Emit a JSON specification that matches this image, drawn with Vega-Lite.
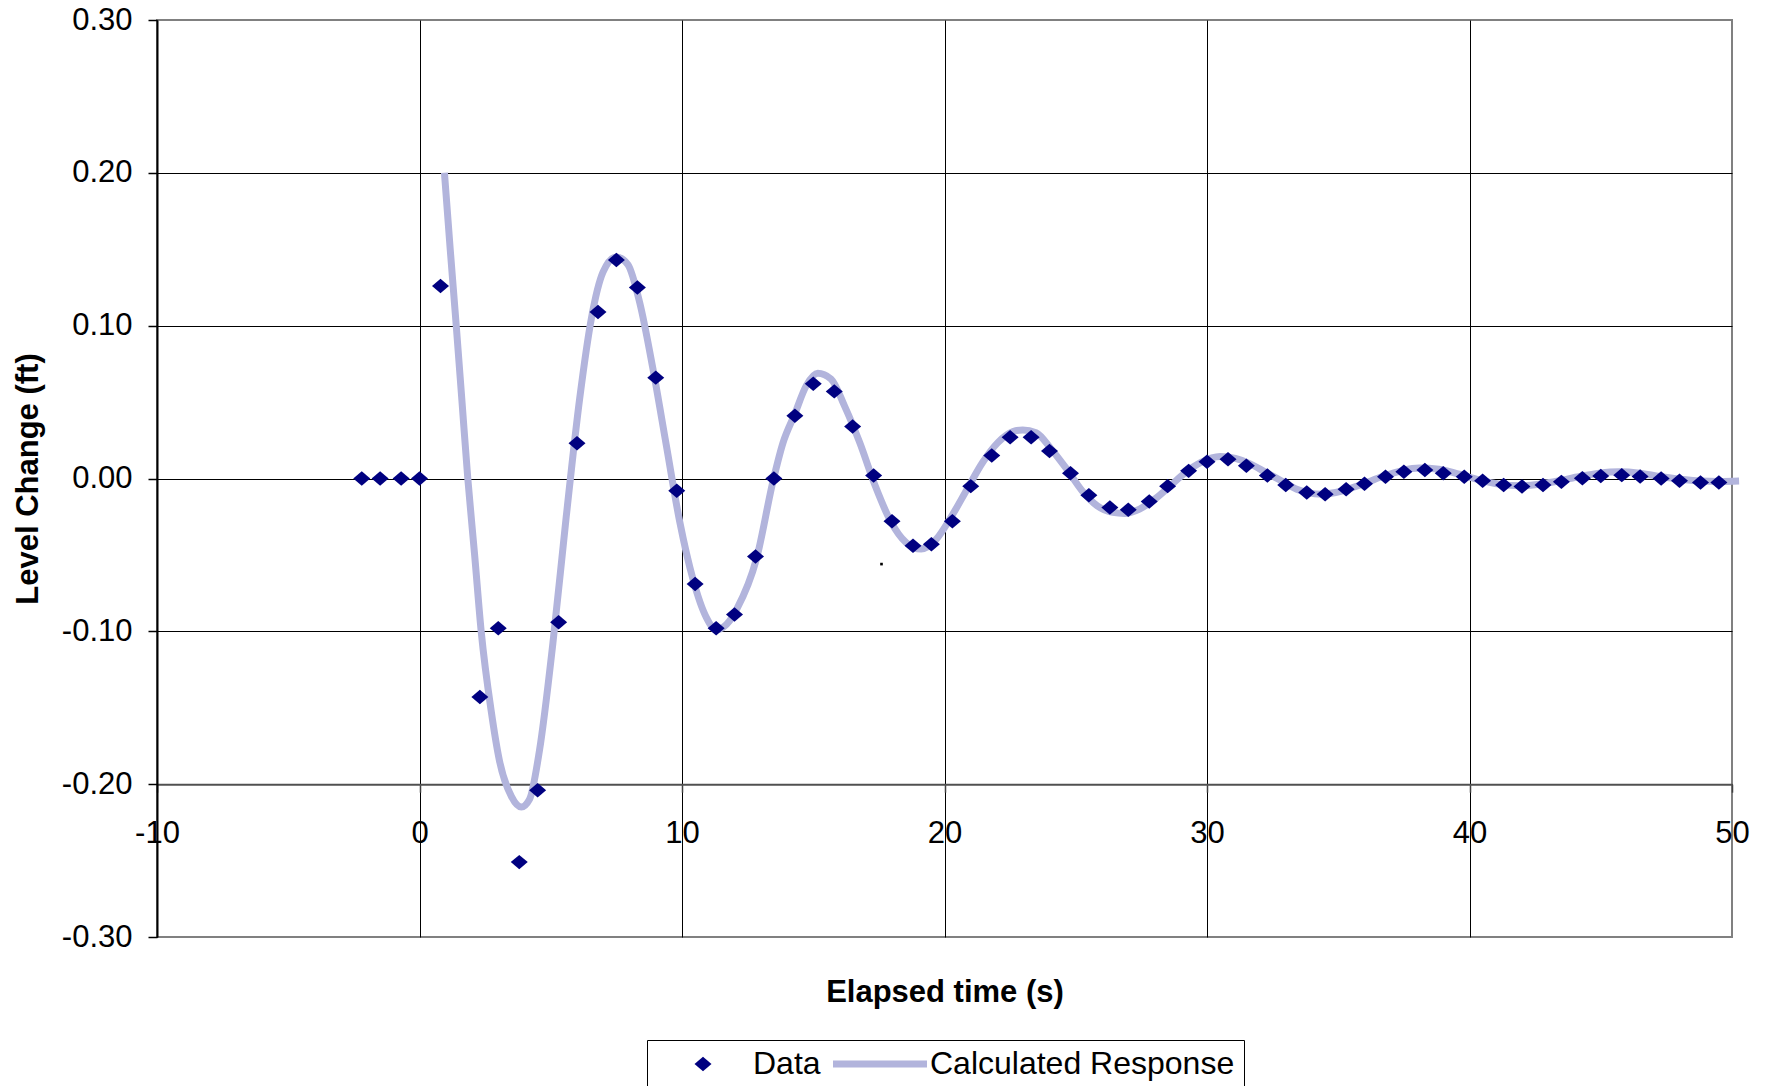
{
  "$schema": "https://vega.github.io/schema/vega-lite/v6.json",
  "width": 1575,
  "height": 917,
  "autosize": {"type": "none"},
  "padding": {"left": 157, "top": 20, "right": 40, "bottom": 149},
  "background": "white",
  "config": {
    "locale": {"number": {"decimal": ".", "thousands": ",", "grouping": [3], "currency": ["$", ""], "minus": "-"}},
    "font": "Liberation Sans",
    "view": {"stroke": "#808080", "strokeWidth": 2}
  },
  "datasets": {
    "measured": [
      {"t": -2.2, "level": 0, "series": "Data"},
      {"t": -1.5, "level": 0, "series": "Data"},
      {"t": -0.7, "level": 0, "series": "Data"},
      {"t": 0.0, "level": 0, "series": "Data"},
      {"t": 0.8, "level": 0.126, "series": "Data"},
      {"t": 2.3, "level": -0.143, "series": "Data"},
      {"t": 3.0, "level": -0.098, "series": "Data"},
      {"t": 3.8, "level": -0.251, "series": "Data"},
      {"t": 4.5, "level": -0.204, "series": "Data"},
      {"t": 5.3, "level": -0.094, "series": "Data"},
      {"t": 6.0, "level": 0.023, "series": "Data"},
      {"t": 6.8, "level": 0.109, "series": "Data"},
      {"t": 7.5, "level": 0.143, "series": "Data"},
      {"t": 8.3, "level": 0.125, "series": "Data"},
      {"t": 9.0, "level": 0.066, "series": "Data"},
      {"t": 9.8, "level": -0.008, "series": "Data"},
      {"t": 10.5, "level": -0.069, "series": "Data"},
      {"t": 11.3, "level": -0.098, "series": "Data"},
      {"t": 12.0, "level": -0.089, "series": "Data"},
      {"t": 12.8, "level": -0.051, "series": "Data"},
      {"t": 13.5, "level": 0.0, "series": "Data"},
      {"t": 14.3, "level": 0.041, "series": "Data"},
      {"t": 15.0, "level": 0.062, "series": "Data"},
      {"t": 15.8, "level": 0.057, "series": "Data"},
      {"t": 16.5, "level": 0.034, "series": "Data"},
      {"t": 17.3, "level": 0.002, "series": "Data"},
      {"t": 18.0, "level": -0.028, "series": "Data"},
      {"t": 18.8, "level": -0.044, "series": "Data"},
      {"t": 19.5, "level": -0.043, "series": "Data"},
      {"t": 20.3, "level": -0.028, "series": "Data"},
      {"t": 21.0, "level": -0.005, "series": "Data"},
      {"t": 21.8, "level": 0.015, "series": "Data"},
      {"t": 22.5, "level": 0.027, "series": "Data"},
      {"t": 23.3, "level": 0.027, "series": "Data"},
      {"t": 24.0, "level": 0.018, "series": "Data"},
      {"t": 24.8, "level": 0.0035, "series": "Data"},
      {"t": 25.5, "level": -0.011, "series": "Data"},
      {"t": 26.3, "level": -0.019, "series": "Data"},
      {"t": 27.0, "level": -0.0205, "series": "Data"},
      {"t": 27.8, "level": -0.015, "series": "Data"},
      {"t": 28.5, "level": -0.005, "series": "Data"},
      {"t": 29.3, "level": 0.005, "series": "Data"},
      {"t": 30.0, "level": 0.011, "series": "Data"},
      {"t": 30.8, "level": 0.0126, "series": "Data"},
      {"t": 31.5, "level": 0.0083, "series": "Data"},
      {"t": 32.3, "level": 0.002, "series": "Data"},
      {"t": 33.0, "level": -0.0043, "series": "Data"},
      {"t": 33.8, "level": -0.0092, "series": "Data"},
      {"t": 34.5, "level": -0.0103, "series": "Data"},
      {"t": 35.3, "level": -0.007, "series": "Data"},
      {"t": 36.0, "level": -0.0035, "series": "Data"},
      {"t": 36.8, "level": 0.0011, "series": "Data"},
      {"t": 37.5, "level": 0.0044, "series": "Data"},
      {"t": 38.3, "level": 0.0055, "series": "Data"},
      {"t": 39.0, "level": 0.0035, "series": "Data"},
      {"t": 39.8, "level": 0.0011, "series": "Data"},
      {"t": 40.5, "level": -0.0015, "series": "Data"},
      {"t": 41.3, "level": -0.0042, "series": "Data"},
      {"t": 42.0, "level": -0.0052, "series": "Data"},
      {"t": 42.8, "level": -0.0042, "series": "Data"},
      {"t": 43.5, "level": -0.0022, "series": "Data"},
      {"t": 44.3, "level": 0.0002, "series": "Data"},
      {"t": 45.0, "level": 0.0017, "series": "Data"},
      {"t": 45.8, "level": 0.0022, "series": "Data"},
      {"t": 46.5, "level": 0.0013, "series": "Data"},
      {"t": 47.3, "level": 0.0, "series": "Data"},
      {"t": 48.0, "level": -0.0015, "series": "Data"},
      {"t": 48.8, "level": -0.0026, "series": "Data"},
      {"t": 49.5, "level": -0.0026, "series": "Data"}
    ],
    "calculated": [
      {"t": 0.95, "level": 0.2},
      {"t": 1.17, "level": 0.15},
      {"t": 1.4, "level": 0.1},
      {"t": 1.62, "level": 0.05},
      {"t": 1.84, "level": 0.0},
      {"t": 2.1, "level": -0.05},
      {"t": 2.35, "level": -0.1},
      {"t": 2.73, "level": -0.152},
      {"t": 3.05, "level": -0.185},
      {"t": 3.5, "level": -0.208},
      {"t": 3.88, "level": -0.215},
      {"t": 4.19, "level": -0.21},
      {"t": 4.57, "level": -0.178},
      {"t": 5.08, "level": -0.108},
      {"t": 5.59, "level": -0.025},
      {"t": 6.1, "level": 0.052},
      {"t": 6.55, "level": 0.105},
      {"t": 6.99, "level": 0.135},
      {"t": 7.5, "level": 0.145},
      {"t": 7.94, "level": 0.14},
      {"t": 8.39, "level": 0.115},
      {"t": 8.89, "level": 0.072},
      {"t": 9.4, "level": 0.022},
      {"t": 9.91, "level": -0.028},
      {"t": 10.42, "level": -0.066},
      {"t": 10.93, "level": -0.091},
      {"t": 11.3, "level": -0.099},
      {"t": 11.82, "level": -0.093},
      {"t": 12.1, "level": -0.085},
      {"t": 12.83, "level": -0.053},
      {"t": 13.49, "level": 0.0},
      {"t": 13.85, "level": 0.0235},
      {"t": 14.29, "level": 0.042},
      {"t": 14.73, "level": 0.0606},
      {"t": 15.17, "level": 0.0688},
      {"t": 15.68, "level": 0.065},
      {"t": 16.19, "level": 0.0475},
      {"t": 16.77, "level": 0.0235},
      {"t": 17.36, "level": -0.0048},
      {"t": 17.94, "level": -0.0277},
      {"t": 18.53, "level": -0.0418},
      {"t": 19.11, "level": -0.0462},
      {"t": 19.69, "level": -0.0397},
      {"t": 20.28, "level": -0.0244},
      {"t": 20.86, "level": -0.007},
      {"t": 21.45, "level": 0.0105},
      {"t": 22.03, "level": 0.0235},
      {"t": 22.61, "level": 0.0307},
      {"t": 22.98, "level": 0.0318},
      {"t": 23.49, "level": 0.03},
      {"t": 24.07, "level": 0.0192},
      {"t": 24.66, "level": 0.0061},
      {"t": 25.24, "level": -0.008},
      {"t": 25.82, "level": -0.0179},
      {"t": 26.41, "level": -0.0222},
      {"t": 26.85, "level": -0.0229},
      {"t": 27.43, "level": -0.02},
      {"t": 28.01, "level": -0.0135},
      {"t": 28.6, "level": -0.0048},
      {"t": 29.18, "level": 0.0039},
      {"t": 29.77, "level": 0.0105},
      {"t": 30.5, "level": 0.0144},
      {"t": 31.08, "level": 0.0131},
      {"t": 31.66, "level": 0.0094},
      {"t": 32.25, "level": 0.0039},
      {"t": 32.83, "level": -0.0015},
      {"t": 33.42, "level": -0.007},
      {"t": 33.82, "level": -0.0092},
      {"t": 34.39, "level": -0.0103},
      {"t": 35.15, "level": -0.0081},
      {"t": 35.92, "level": -0.0037},
      {"t": 36.68, "level": 0.0013},
      {"t": 37.44, "level": 0.0052},
      {"t": 38.08, "level": 0.0068},
      {"t": 38.84, "level": 0.0061},
      {"t": 39.61, "level": 0.0028},
      {"t": 40.37, "level": -0.0009},
      {"t": 41.13, "level": -0.0037},
      {"t": 41.9, "level": -0.0048},
      {"t": 42.66, "level": -0.0037},
      {"t": 43.42, "level": -0.0015},
      {"t": 44.19, "level": 0.0013},
      {"t": 44.95, "level": 0.0035},
      {"t": 45.71, "level": 0.0044},
      {"t": 46.48, "level": 0.0035},
      {"t": 47.24, "level": 0.0013},
      {"t": 48.0, "level": -0.0004},
      {"t": 48.77, "level": -0.0017},
      {"t": 49.53, "level": -0.002},
      {"t": 50.27, "level": -0.0017}
    ],
    "stray": [
      {"t": 17.6, "level": -0.056}
    ]
  },
  "encoding": {
    "x": {
      "field": "t",
      "type": "quantitative",
      "scale": {"domain": [-10, 50], "nice": false, "zero": false},
      "axis": {
        "title": "Elapsed time (s)",
        "titleFontSize": 31,
        "titleFontWeight": "bold",
        "titleColor": "black",
        "titleBaseline": "top",
        "titleY": 193,
        "values": [-10, 0, 10, 20, 30, 40, 50],
        "format": "d",
        "offset": -152.83,
        "labelFontSize": 31,
        "labelColor": "black",
        "labelPadding": 26,
        "labelFlush": false,
        "labelOverlap": false,
        "labelBound": false,
        "tickSize": 8,
        "tickColor": "#404040",
        "tickWidth": 1.5,
        "domainColor": "#505050",
        "domainWidth": 2,
        "grid": true,
        "gridColor": {"condition": {"test": "datum.value >= 50", "value": "transparent"}, "value": "black"},
        "gridWidth": 1,
        "gridOpacity": 1
      }
    },
    "y": {
      "field": "level",
      "type": "quantitative",
      "scale": {"domain": [-0.3, 0.3], "nice": false, "zero": false},
      "axis": {
        "title": "Level Change (ft)",
        "titleFontSize": 31,
        "titleFontWeight": "bold",
        "titleColor": "black",
        "titleX": -129,
        "titleBaseline": "middle",
        "values": [-0.3, -0.2, -0.1, 0, 0.1, 0.2, 0.3],
        "format": ".2f",
        "labelFontSize": 31,
        "labelColor": "black",
        "labelPadding": 16,
        "labelFlush": false,
        "labelOverlap": false,
        "labelBound": false,
        "tickSize": 9,
        "tickColor": "black",
        "tickWidth": 1.5,
        "domainColor": "black",
        "domainWidth": 2,
        "grid": true,
        "gridColor": {"condition": {"test": "abs(datum.value) > 0.29", "value": "transparent"}, "value": "black"},
        "gridWidth": 1,
        "gridOpacity": 1
      }
    }
  },
  "layer": [
    {
      "data": {"name": "calculated"},
      "mark": {"type": "line", "color": "#b2b4dc", "strokeWidth": 7, "interpolate": "monotone", "clip": false},
      "encoding": {}
    },
    {
      "data": {"name": "measured"},
      "mark": {"type": "point", "filled": true, "size": 289, "opacity": 1, "strokeWidth": 0},
      "encoding": {
        "color": {
          "field": "series",
          "type": "nominal",
          "scale": {"domain": ["Data", "Calculated Response"], "range": ["#000080", "#b2b4dc"]},
          "legend": {
            "orient": "none",
            "legendX": 490,
            "legendY": 1020,
            "direction": "horizontal",
            "title": null,
            "symbolSize": 8836,
            "symbolStrokeWidth": 0,
            "symbolOpacity": 1,
            "clipHeight": 30,
            "labelFontSize": 32,
            "labelFont": "Liberation Sans",
            "labelColor": "black",
            "labelOffset": 3,
            "labelLimit": 600,
            "columnPadding": 12,
            "padding": 9,
            "strokeColor": "black",
            "fillColor": "white",
            "encode": {
              "symbols": {
                "update": {
                  "x": {"value": 47},
                  "fill": {"signal": "datum.value === 'Data' ? '#000080' : 'transparent'"},
                  "stroke": {"signal": "datum.value === 'Data' ? 'transparent' : '#b2b4dc'"},
                  "strokeWidth": {"signal": "datum.value === 'Data' ? 0 : 7"},
                  "size": {"signal": "datum.value === 'Data' ? 289 : 8836"},
                  "opacity": {"value": 1}
                }
              },
              "labels": {
                "update": {
                  "x": {"value": 97}
                }
              }
            }
          }
        },
        "shape": {
          "field": "series",
          "type": "nominal",
          "scale": {"domain": ["Data", "Calculated Response"], "range": ["M0,-0.85L1,0L0,0.85L-1,0Z", "stroke"]}
        }
      }
    },
    {
      "data": {"name": "stray"},
      "mark": {"type": "square", "size": 7, "color": "black", "opacity": 1, "filled": true},
      "encoding": {}
    }
  ]
}
